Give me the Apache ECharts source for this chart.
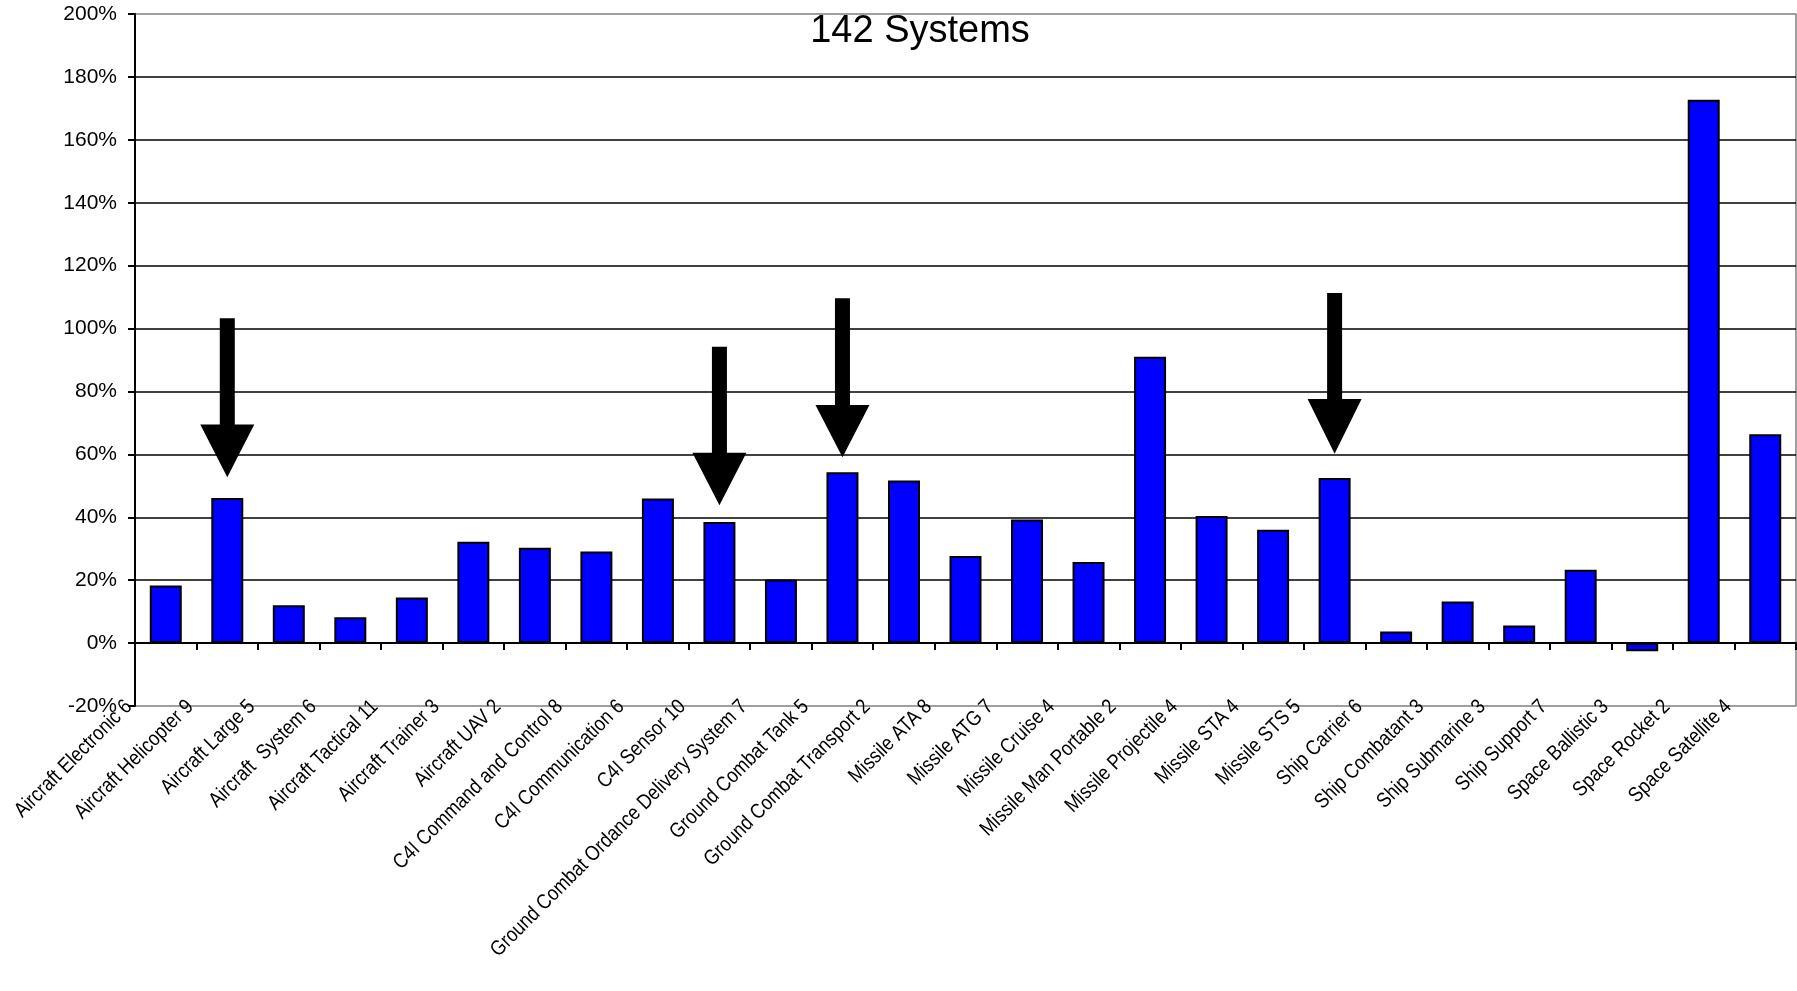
<!DOCTYPE html>
<html>
<head>
<meta charset="utf-8">
<title>142 Systems</title>
<script src="https://cdn.jsdelivr.net/npm/echarts@6/dist/echarts.min.js"></script>
<style>
  html, body { margin: 0; padding: 0; background: #ffffff; }
  #chart { width: 1797px; height: 991px; }
</style>
</head>
<body>
<div id="chart"></div>
<script>
// System categories (with system counts) and their percentage values
const categories = [
  'Aircraft Electronic 6', 'Aircraft Helicopter 9', 'Aircraft Large 5', 'Aircraft  System 6',
  'Aircraft Tactical 11', 'Aircraft Trainer 3', 'Aircraft UAV 2', 'C4I Command and Control 8',
  'C4I Communication 6', 'C4I Sensor 10', 'Ground Combat Ordance Delivery System 7',
  'Ground Combat Tank 5', 'Ground Combat Transport 2', 'Missile ATA 8', 'Missile ATG 7',
  'Missile Cruise 4', 'Missile Man Portable 2', 'Missile Projectile 4', 'Missile STA 4',
  'Missile STS 5', 'Ship Carrier 6', 'Ship Combatant 3', 'Ship Submarine 3', 'Ship Support 7',
  'Space Ballistic 3', 'Space Rocket 2', 'Space Satellite 4'
];
const values = [
  18.3, 46.1, 12.0, 8.2, 14.5, 32.2, 30.3, 29.1,
  46.0, 38.5, 20.2, 54.3, 51.7, 27.7, 39.3, 25.8,
  91.0, 40.4, 36.0, 52.5, 3.7, 13.2, 5.6, 23.3,
  -2.6, 172.7, 66.4
];

// Y axis ticks
const yMin = -20;
const yMax = 200;
const yStep = 20;

// Highlight arrows: category, tail value, arrow-head base value, tip value
const arrowCategories = ['Aircraft Helicopter 9', 'C4I Sensor 10', 'Ground Combat Tank 5', 'Missile STS 5'];
const arrowTail = [103.3, 94.2, 109.6, 111.3];
const arrowNeck = [69.5, 60.5, 75.7, 77.6];
const arrowTip  = [52.7, 43.8, 59.1, 60.2];

const FONT = 'Arial, "Liberation Sans", Helvetica, sans-serif';

const chart = echarts.init(document.getElementById('chart'), null, { renderer: 'canvas' });

// Down-pointing block arrow above a bar
function renderArrow(params, api) {
  const cat = api.value(0);
  const x = api.coord([cat, 0])[0];
  const yTail = api.coord([cat, api.value(1)])[1];
  const yNeck = api.coord([cat, api.value(2)])[1];
  const yTip = api.coord([cat, api.value(3)])[1];
  const shaft = 7.5;
  const head = 27;
  return {
    type: 'polygon',
    shape: {
      points: [
        [x - shaft, yTail], [x + shaft, yTail], [x + shaft, yNeck],
        [x + head, yNeck], [x, yTip], [x - head, yNeck], [x - shaft, yNeck]
      ]
    },
    style: { fill: '#000000' }
  };
}

// Slanted, slightly condensed category label hanging under the plot bottom
function renderCategoryLabel(params, api) {
  const p = api.coord([api.value(0), api.value(1)]);
  return {
    type: 'text',
    x: p[0] - 37,
    y: p[1] - 2.5,
    rotation: Math.PI / 4,
    scaleX: 0.86,
    style: {
      text: categories[params.dataIndex],
      fontSize: 21,
      fontFamily: FONT,
      fill: '#000000',
      align: 'right',
      verticalAlign: 'middle'
    }
  };
}

const option = {
  backgroundColor: '#ffffff',
  animation: false,
  title: {
    text: '142 Systems',
    left: 915,
    top: 8,
    textAlign: 'center',
    textStyle: { fontSize: 38, fontWeight: 'normal', color: '#000000', fontFamily: FONT }
  },
  grid: {
    left: 135,
    right: 1,
    top: 14,
    bottom: 285,
    show: true,
    borderColor: '#808080',
    borderWidth: 1.5,
    backgroundColor: 'transparent',
    containLabel: false,
    outerBoundsMode: 'none'
  },
  xAxis: {
    type: 'category',
    data: categories,
    position: 'bottom',
    axisLine: { show: true, onZero: true, lineStyle: { color: '#000000', width: 2 } },
    axisTick: { show: true, interval: 0, length: 7, lineStyle: { color: '#000000', width: 2 } },
    axisLabel: { show: false },
    splitLine: { show: false }
  },
  yAxis: {
    type: 'value',
    min: yMin,
    max: yMax,
    interval: yStep,
    axisLine: { show: true, onZero: false, lineStyle: { color: '#000000', width: 2 } },
    axisTick: { show: true, length: 7, lineStyle: { color: '#000000', width: 2 } },
    axisLabel: {
      formatter: '{value}%',
      fontSize: 21,
      margin: 18,
      color: '#000000',
      fontFamily: FONT
    },
    splitLine: {
      show: true,
      showMinLine: false,
      showMaxLine: false,
      lineStyle: { color: '#000000', width: 1.5 }
    }
  },
  series: [
    {
      type: 'bar',
      data: values,
      barWidth: '52%',
      itemStyle: { color: '#0000FF', borderColor: '#000000', borderWidth: 2 },
      silent: true
    },
    {
      type: 'custom',
      renderItem: renderArrow,
      encode: { x: 0, y: [1, 2, 3] },
      data: arrowCategories.map((c, i) => [c, arrowTail[i], arrowNeck[i], arrowTip[i]]),
      z: 10,
      silent: true
    },
    {
      type: 'custom',
      renderItem: renderCategoryLabel,
      encode: { x: 0, y: 1 },
      data: categories.map((c) => [c, yMin]),
      clip: false,
      z: 12,
      silent: true
    }
  ]
};

chart.setOption(option);
</script>
</body>
</html>
